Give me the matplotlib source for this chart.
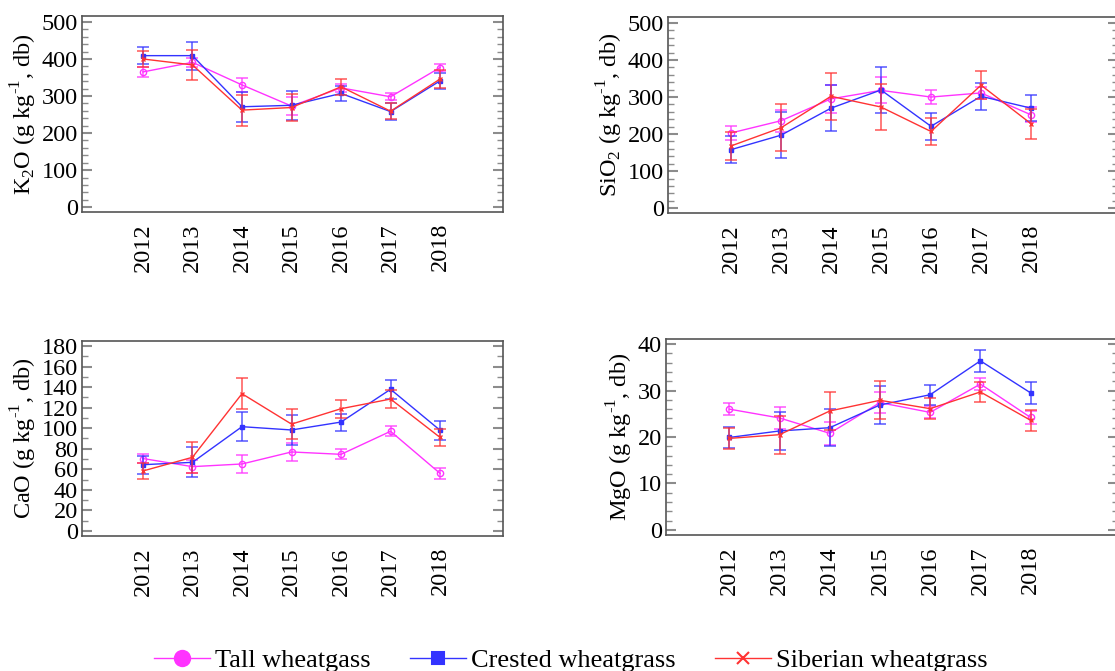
import matplotlib.pyplot as plt
from matplotlib.lines import Line2D
from matplotlib.ticker import MultipleLocator

plt.rcParams['font.family'] = ['Liberation Serif', 'DejaVu Serif']
plt.rcParams['mathtext.fontset'] = 'custom'
plt.rcParams['mathtext.rm'] = 'Liberation Serif'

years = [2012, 2013, 2014, 2015, 2016, 2017, 2018]
species = ['Tall wheatgass', 'Crested wheatgrass', 'Siberian wheatgrass']

# K2O
k2o_tall = [365, 391, 330, 273, 322, 298, 377]
k2o_tall_err = [13, 12, 20, 25, 11, 10, 10]
k2o_crested = [409, 409, 271, 275, 307, 258, 341]
k2o_crested_err = [23, 38, 40, 39, 21, 22, 21]
k2o_siberian = [400, 384, 262, 269, 325, 259, 346]
k2o_siberian_err = [22, 40, 42, 37, 22, 22, 23]

# SiO2
sio2_tall = [203, 236, 295, 318, 300, 311, 252]
sio2_tall_err = [20, 30, 37, 35, 18, 15, 20]
sio2_crested = [158, 197, 270, 319, 221, 302, 270]
sio2_crested_err = [37, 62, 63, 63, 36, 36, 35]
sio2_siberian = [168, 217, 302, 273, 207, 332, 228]
sio2_siberian_err = [38, 63, 63, 63, 36, 37, 40]

# CaO
cao_tall = [70.5, 62.6, 65.2, 76.9, 74.6, 97.0, 56.0]
cao_tall_err = [4.2, 6.0, 8.4, 8.7, 4.9, 4.9, 5.0]
cao_crested = [64.5, 66.8, 101.5, 98.3, 106.0, 137.9, 98.0]
cao_crested_err = [8.7, 14.6, 14.3, 14.4, 8.3, 9.0, 9.0]
cao_siberian = [58.4, 71.7, 133.6, 104.0, 119.0, 128.4, 91.0]
cao_siberian_err = [8.0, 15.0, 14.9, 14.6, 8.6, 8.4, 8.6]

# MgO
mgo_tall = [26.0, 24.1, 20.8, 27.4, 25.3, 31.4, 24.2]
mgo_tall_err = [1.3, 2.3, 2.5, 2.3, 1.3, 1.3, 1.4]
mgo_crested = [19.9, 21.3, 22.0, 26.9, 29.1, 36.4, 29.5]
mgo_crested_err = [2.2, 4.0, 4.0, 4.0, 2.2, 2.3, 2.3]
mgo_siberian = [19.7, 20.5, 25.6, 27.9, 26.1, 29.7, 23.6]
mgo_siberian_err = [2.3, 4.1, 4.0, 4.1, 2.2, 2.2, 2.3]

colors = ['#ff33ff', '#3333ff', '#ff3333']
markers = ['o', 's', 'x']
msizes = [4.5, 3, 3.5]

unit = r' (g kg$^{\text{-1}}$, db)'

panels = [
    # (axes rect, ylabel, ylim, major, minor, xlim, series)
    ([82 / 1115, 1 - 212 / 671, 421 / 1115, 196 / 671],
     r'K$_\mathregular{2}$O' + unit, (-13, 516), 100, 20,
     (2010.77, 2019.27),
     [(k2o_tall, k2o_tall_err), (k2o_crested, k2o_crested_err),
      (k2o_siberian, k2o_siberian_err)]),
    ([668 / 1115, 1 - 213 / 671, 450 / 1115, 196 / 671],
     r'SiO$_\mathregular{2}$' + unit, (-13, 516), 100, 20,
     (2010.74, 2019.74),
     [(sio2_tall, sio2_tall_err), (sio2_crested, sio2_crested_err),
      (sio2_siberian, sio2_siberian_err)]),
    ([82 / 1115, 1 - 536 / 671, 421 / 1115, 195 / 671],
     'CaO' + unit, (-4.9, 184.9), 20, 10,
     (2010.77, 2019.27),
     [(cao_tall, cao_tall_err), (cao_crested, cao_crested_err),
      (cao_siberian, cao_siberian_err)]),
    ([666 / 1115, 1 - 535 / 671, 452 / 1115, 196 / 671],
     'MgO' + unit, (-1.1, 41.1), 10, 2,
     (2010.74, 2019.74),
     [(mgo_tall, mgo_tall_err), (mgo_crested, mgo_crested_err),
      (mgo_siberian, mgo_siberian_err)]),
]

fig = plt.figure(figsize=(11.15, 6.71), dpi=100)

for rect, ylabel, ylim, major, minor, xlim, series in panels:
    ax = fig.add_axes(rect)
    for (vals, errs), c, m, ms in zip(series, colors, markers, msizes):
        ax.errorbar(years, vals, yerr=errs, fmt='none', ecolor=c,
                    elinewidth=1.4, capsize=4, capthick=1.4, alpha=0.65)
        ax.plot(years, vals, color=c, lw=1, marker=m, ms=ms,
                mfc='none' if m == 'o' else c, mec=c, mew=1)
    ax.set_ylim(*ylim)
    ax.set_xlim(*xlim)
    ax.set_xticks(years)
    ax.set_xticklabels([str(y) for y in years], rotation=90, fontsize=17.5)
    ax.yaxis.set_major_locator(MultipleLocator(major))
    ax.yaxis.set_minor_locator(MultipleLocator(minor))
    ax.tick_params(axis='x', length=0, pad=8)
    ax.tick_params(axis='y', which='major', direction='in', left=True,
                   right=True, length=7, width=1.5, color='#8c8c8c',
                   labelsize=17.5, pad=3)
    ax.tick_params(axis='y', which='minor', direction='in', left=True,
                   right=True, length=4, width=1, color='#8c8c8c')
    ax.set_ylabel(ylabel, fontsize=17.5, labelpad=2)
    for side in ax.spines.values():
        side.set_color('#555555')
        side.set_linewidth(1.2)

handles = [Line2D([], [], color=c, lw=1, marker=m, ms=s, mfc=c, mec=c, mew=1.5)
           for c, m, s in zip(colors, markers, [11, 9, 8])]
fig.legend(handles, species, loc='center', bbox_to_anchor=(0.512, 0.016),
           ncol=3, frameon=False, fontsize=19, handlelength=2.1,
           handletextpad=0.2, columnspacing=1.5)

fig.savefig('out.png', dpi=100)
